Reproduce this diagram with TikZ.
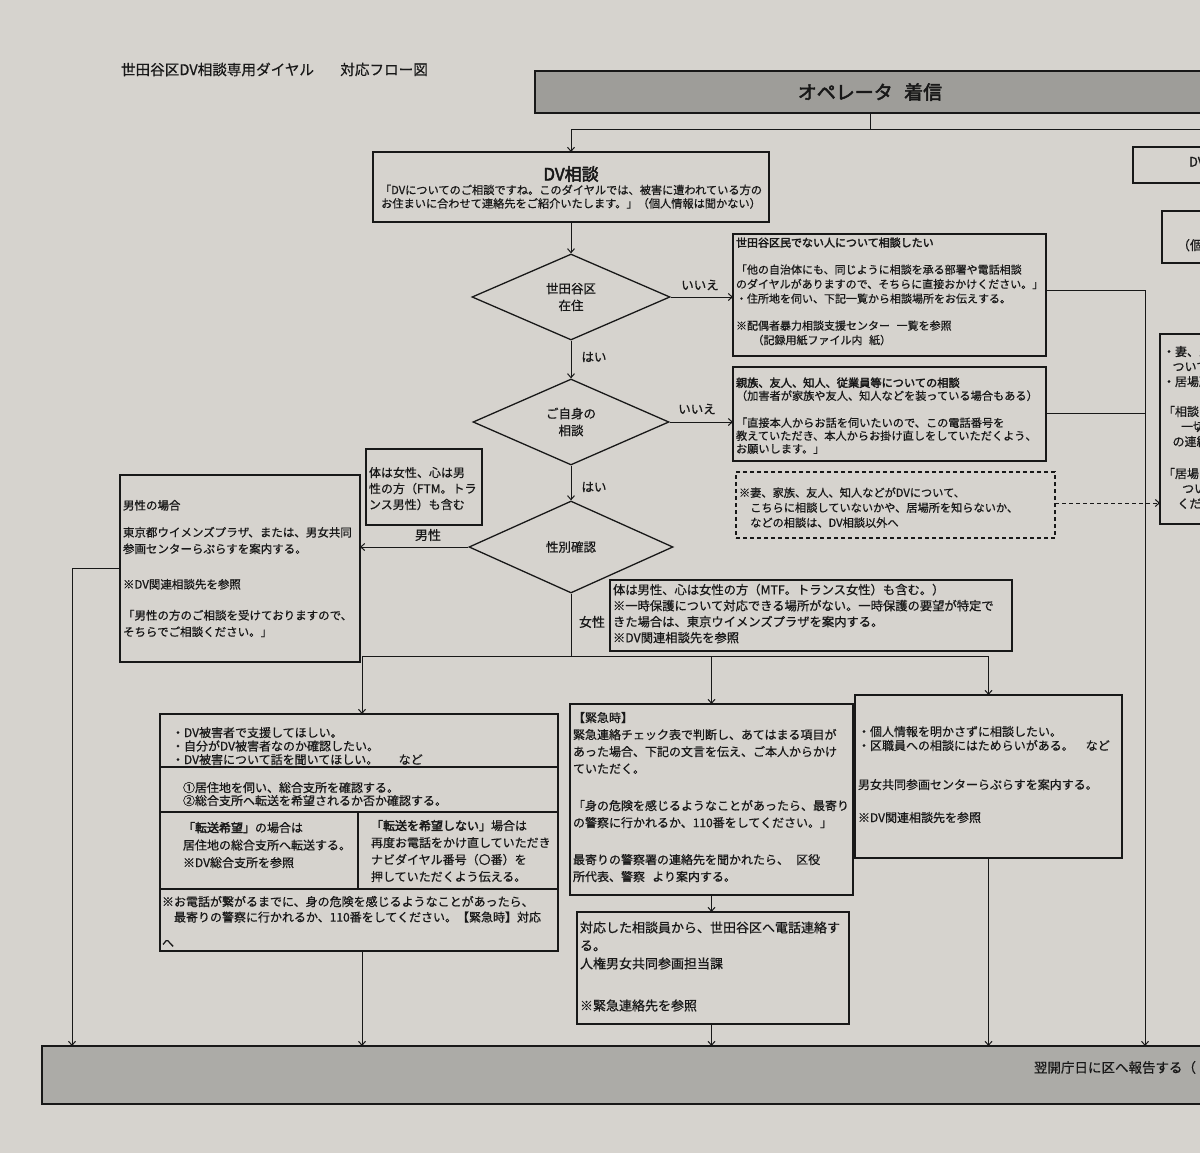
\documentclass[tikz,border=0pt]{standalone}
\usepackage{fontspec}
\setmainfont{Noto Sans CJK JP}[FakeBold=0.6,BoldFont={Noto Sans CJK JP},BoldFeatures={FakeBold=2.6}]
\usetikzlibrary{shapes.geometric,arrows.meta}
\definecolor{paper}{RGB}{214,211,206}
\definecolor{ink}{RGB}{24,24,24}
\definecolor{barg}{RGB}{158,157,153}
\definecolor{barg2}{RGB}{172,171,167}
\newcommand{\jfs}[2]{\fontsize{#1}{#2}\selectfont}
\begin{document}
\begin{tikzpicture}[x=1pt,y=-1pt,
 box/.style={draw=ink,line width=1.3pt,anchor=north west,inner sep=0pt,outer sep=0pt},
 txt/.style={anchor=north west,inner sep=0pt,outer sep=0pt,align=left,text=ink},
 lab/.style={inner sep=0pt,text=ink,font=\jfs{12.5}{15}},
 dia/.style={diamond,draw=ink,line width=1.3pt,inner sep=0pt,align=center,text=ink,font=\jfs{12.5}{17}},
 con/.style={draw=ink,line width=1pt},
 arr/.style={con,-{Straight Barb[length=4pt,width=7pt]}},
 dsh/.style={draw=ink,line width=1.1pt,dash pattern=on 4pt off 3pt}]
\useasboundingbox (0,0) rectangle (1200,1153);
\clip (0,0) rectangle (1200,1153);
\fill[paper] (0,0) rectangle (1200,1153);

% title
\node[txt,font=\jfs{14.6}{16}] (title) at (121,62.7) {世田谷区DV相談専用ダイヤル\hspace{1.8em}対応フロー図};

% operator bar
\node[box,fill=barg,minimum width=670,minimum height=42,text=ink,font=\bfseries\jfs{19}{21}] (op) at (535,71) {オペレータ\hspace{0.6em}着信};

% DV box
\node[box,minimum width=396,minimum height=70] (dv) at (373,152) {};
\node[inner sep=0pt,text=ink,font=\bfseries\jfs{17}{19}] (dvt) at (571,174) {DV相談};
\node[inner sep=0pt,anchor=north,align=center,text=ink,font=\jfs{11.2}{13.5}] (dvl) at (571,184.5) {「DVについてのご相談ですね。このダイヤルでは、被害に遭われている方の\\お住まいに合わせて連絡先をご紹介いたします。」（個人情報は聞かない）};

% diamonds
\node[dia,minimum width=198,minimum height=86] (d1) at (571,297) {世田谷区\\在住};
\node[dia,minimum width=196,minimum height=86] (d2) at (571,422) {ご自身の\\相談};
\node[dia,minimum width=204,minimum height=92] (d3) at (571,547) {性別確認};

% box 1
\node[box,minimum width=313,minimum height=122] (b1) at (733,234) {};
\node[txt,font=\jfs{11}{14.5}] (b1t) at (736,237.5) {{\bfseries 世田谷区民でない人について相談したい}\\[12.5pt]
「他の自治体にも、同じように相談を承る部署や電話相談\\
のダイヤルがありますので、そちらに直接おかけください。」\\
・住所地を伺い、下記一覧から相談場所をお伝えする。\\[12.5pt]
※配偶者暴力相談支援センター\hspace{0.6em}一覧を参照\\
\hspace*{1.5em}（記録用紙ファイル内\hspace{0.6em}紙）};

% box 2
\node[box,minimum width=313,minimum height=94] (b2) at (733,367) {};
\node[txt,font=\jfs{11.2}{13}] (b2t) at (736,377.5) {{\bfseries 親族、友人、知人、従業員等についての相談}\\
（加害者が家族や友人、知人などを装っている場合もある）\\[14pt]
「直接本人からお話を伺いたいので、この電話番号を\\
教えていただき、本人からお掛け直しをしていただくよう、\\
お願いします。」};

% dashed box
\node[box,dsh,minimum width=319,minimum height=66] (db) at (736,472) {};
\node[txt,font=\jfs{11.2}{15}] (dbt) at (739,487.4) {※妻、家族、友人、知人などがDVについて、\\
\hspace*{1em}こちらに相談していないかや、居場所を知らないか、\\
\hspace*{1em}などの相談は、DV相談以外へ};

% small box
\node[box,minimum width=116,minimum height=76] (sb) at (366,449) {};
\node[txt,font=\jfs{12}{16}] (sbt) at (369,467) {体は女性、心は男\\性の方（FTM。トラ\\ンス男性）も含む};

% male box
\node[box,minimum width=240,minimum height=187] (mb) at (120,475) {};
\node[txt,font=\jfs{11.5}{16.5}] (mbt) at (123,500) {男性の場合\\[10.5pt]
東京都ウイメンズプラザ、または、男女共同\\
参画センターらぷらすを案内する。\\[19pt]
※DV関連相談先を参照\\[14.5pt]
「男性の方のご相談を受けておりますので、\\
そちらでご相談ください。」};

% female info box
\node[box,minimum width=402,minimum height=71] (fb) at (610,580) {};
\node[txt,font=\jfs{12.3}{16}] (fbt) at (613,583.8) {体は男性、心は女性の方（MTF。トランス女性）も含む。）\\
※一時保護について対応できる場所がない。一時保護の要望が特定で\\
きた場合は、東京ウイメンズプラザを案内する。\\
※DV関連相談先を参照};

% left group box
\node[box,minimum width=398,minimum height=237] (lg) at (160,714) {};
\draw[ink,line width=1.3pt] (160,767) -- (558,767);
\draw[ink,line width=1.3pt] (160,812) -- (558,812);
\draw[ink,line width=1.3pt] (160,889) -- (558,889);
\draw[ink,line width=1.3pt] (358,812) -- (358,889);
\node[txt,font=\jfs{12}{13.5}] (lg1) at (172,727) {・DV被害者で支援してほしい。\\
・自分がDV被害者なのか確認したい。\\
・DV被害について話を聞いてほしい。\hspace{1.7em}など};
\node[txt,font=\jfs{12}{13}] (lg2) at (183,782) {①居住地を伺い、総合支所を確認する。\\
②総合支所へ転送を希望されるか否か確認する。};
\node[txt,font=\jfs{12}{17.5}] (lg3) at (183,822) {{\bfseries 「転送希望」}の場合は\\
居住地の総合支所へ転送する。\\
※DV総合支所を参照};
\node[txt,font=\jfs{12}{17}] (lg4) at (371,820) {{\bfseries 「転送を希望しない」}場合は\\
再度お電話をかけ直していただき\\
ナビダイヤル番号（〇番）を\\
押していただくよう伝える。};
\node[txt,font=\jfs{12}{15.5}] (lg5) at (162,896) {※お電話が繋がるまでに、身の危険を感じるようなことがあったら、\\
\hspace*{1em}最寄りの警察に行かれるか、110番をしてください。【緊急時】対応\\[10pt]
へ};

% emergency box
\node[box,minimum width=283,minimum height=191] (eb) at (570,704) {};
\node[txt,font=\jfs{12}{17}] (ebt) at (573,712) {【緊急時】\\
緊急連絡チェック表で判断し、あてはまる項目が\\
あった場合、下記の文言を伝え、ご本人からかけ\\
ていただく。\\[20pt]
「身の危険を感じるようなことがあったら、最寄り\\
の警察に行かれるか、110番をしてください。」\\[20pt]
最寄りの警察署の連絡先を聞かれたら、\hspace{0.6em}区役\\
所代表、警察\hspace{0.6em}より案内する。};

% right box
\node[box,minimum width=267,minimum height=163] (rb) at (855,695) {};
\node[txt,font=\jfs{12}{14}] (rbt) at (858,726) {・個人情報を明かさずに相談したい。\\
・区職員への相談にはためらいがある。\hspace{1em}など\\[25pt]
男女共同参画センターらぷらすを案内する。\\[19pt]
※DV関連相談先を参照};

% contact box
\node[box,minimum width=272,minimum height=112] (cb) at (577,912) {};
\node[txt,font=\jfs{13}{18}] (cbt) at (580,921.5) {対応した相談員から、世田谷区へ電話連絡す\\
る。\\
人権男女共同参画担当課\\[24pt]
※緊急連絡先を参照};

% bottom bar
\node[box,fill=barg2,minimum width=1175,minimum height=58] (bar) at (42,1046) {};
\node[txt,font=\jfs{13.5}{16}] (bart) at (1034,1061) {翌開庁日に区へ報告する（};

% partial boxes at right edge
\node[box,minimum width=120,minimum height=36] (rp1) at (1133,147) {};
\node[txt,font=\jfs{13}{15}] (rp1t) at (1189,157) {DV};
\node[box,minimum width=100,minimum height=52] (rp2) at (1162,211) {};
\node[txt,font=\jfs{13}{15}] (rp2t) at (1177,239) {（個};
\node[box,minimum width=100,minimum height=190] (rp3) at (1160,334) {};
\node[txt,font=\jfs{12}{15}] (rp3t) at (1163,346) {・妻、家\\
\hspace*{0.8em}ついて\\
・居場所\\[15pt]
「相談\\
\hspace*{1.5em}一切お\\
\hspace*{0.8em}の連絡\\[17pt]
「居場\\
\hspace*{1.6em}つい\\
\hspace*{1.2em}くださ};

% connectors
\coordinate (j1) at (870,130);
\coordinate (j1l) at (571,130);
\coordinate (j1r) at (1215,130);
\draw[con] (op.south) -- (j1);
\draw[con] (j1l) -- (j1r);
\draw[arr] (j1l) -- (j1l |- dv.north);
\draw[arr] (dv.south) -- (d1.north);
\draw[arr] (d1.east) -- (d1.east -| b1.west);
\node[lab] (no1) at (700,285) {いいえ};
\draw[arr] (d1.south) -- (d2.north);
\node[lab] (yes1) at (594,357) {はい};
\draw[arr] (d2.east) -- (d2.east -| b2.west);
\node[lab] (no2) at (697,409) {いいえ};
\draw[arr] (d2.south) -- (d3.north);
\node[lab] (yes2) at (594,487) {はい};
\draw[arr] (d3.west) -- (d3.west -| mb.east);
\node[lab,font=\jfs{13}{15}] (male) at (428,535) {男性};
\coordinate (j2) at (571,656);
\coordinate (j2l) at (362,656);
\coordinate (j2m) at (711.5,656);
\coordinate (j2r) at (988.5,656);
\draw[con] (d3.south) -- (j2);
\node[lab,font=\jfs{13}{15}] (female) at (592,622) {女性};
\draw[con] (j2l) -- (j2r);
\draw[arr] (j2l) -- (j2l |- lg.north);
\draw[arr] (j2m) -- (j2m |- eb.north);
\draw[arr] (j2r) -- (rb.north);
\draw[arr] (j2m |- eb.south) -- (j2m |- cb.north);
\draw[arr] (j2l |- lg.south) -- (j2l |- bar.north);
\draw[arr] (j2m |- cb.south) -- (j2m |- bar.north);
\draw[arr] (rb.south) -- (rb.south |- bar.north);
\coordinate (lft) at (72,568);
\draw[arr] (mb.west |- lft) -- (lft) -- (lft |- bar.north);
\coordinate (rgt) at (1145,290);
\coordinate (rgt2) at (1145,413);
\draw[arr] (b1.east |- rgt) -- (rgt) -- (rgt |- bar.north);
\draw[con] (b2.east |- rgt2) -- (rgt2);
\coordinate (dsht) at (1055,503);
\draw[con,dash pattern=on 4pt off 3pt,-{Straight Barb[length=4pt,width=7pt]}] (db.east |- dsht) -- (rp3.west |- dsht);
\end{tikzpicture}
\end{document}
